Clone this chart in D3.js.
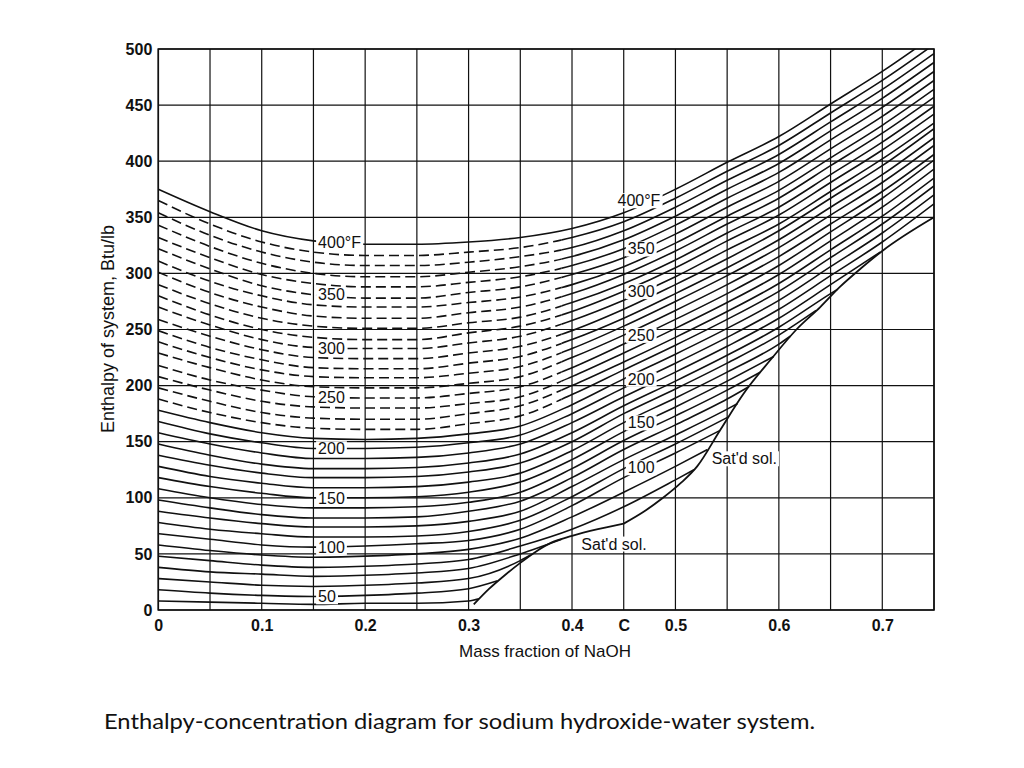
<!DOCTYPE html>
<html>
<head>
<meta charset="utf-8">
<script src="https://cdn.jsdelivr.net/npm/d3@7"></script>
<style>
body{margin:0;background:#fff;}
text{fill:#111;}
</style>
</head>
<body>
<script>
// concentration columns the isotherm values are read at
const xCols = [0, 0.05, 0.1, 0.15, 0.2, 0.25, 0.3, 0.35, 0.4, 0.45, 0.5, 0.55, 0.6, 0.65, 0.7, 0.75];

// isotherm temperatures, degF
const temps = [40, 50, 60, 70, 80, 90, 100, 110, 120, 130, 140, 150, 160, 170, 180, 190,
               200, 210, 220, 230, 240, 250, 260, 270, 280, 290, 300, 310, 320, 330, 340,
               350, 360, 370, 380, 390, 400];

// enthalpy (Btu/lb) of each isotherm at xCols
const hRows = [
  [8, 7, 6, 5, 6, 6, 8],
  [18, 15, 13, 12, 13, 15, 19],
  [28, 25, 22, 21, 22, 24, 28, 44],
  [38, 34, 32, 30, 31, 33, 37, 50],
  [48, 44, 40, 38, 39, 41, 45, 57, 72, 92, 116],
  [58, 53, 49, 47, 48, 50, 54, 64, 83, 105, 128],
  [68, 63, 58, 56, 57, 59, 62, 72, 93, 118, 140],
  [78, 72, 68, 65, 65, 66, 70, 80, 101, 126, 148],
  [88, 82, 77, 74, 74, 75, 79, 88, 110, 134, 156, 179],
  [98, 91, 85, 82, 82, 83, 88, 97, 118, 143, 165, 188],
  [108, 100, 94, 91, 91, 92, 96, 105, 126, 151, 173, 196],
  [118, 110, 104, 100, 100, 101, 105, 114, 134, 159, 181, 204],
  [128, 119, 113, 109, 109, 110, 114, 122, 142, 167, 189, 212, 237],
  [138, 129, 122, 118, 118, 119, 123, 131, 150, 175, 197, 220, 245],
  [148, 138, 130, 126, 126, 127, 131, 139, 158, 182, 204, 227, 252, 282],
  [158, 148, 140, 135, 135, 136, 140, 148, 167, 190, 212, 235, 260, 290],
  [168, 157, 149, 144, 144, 145, 149, 156, 175, 198, 220, 243, 268, 298, 328, 362],
  [178, 167, 158, 153, 152, 153, 157, 164, 183, 206, 228, 251, 276, 306, 336, 370],
  [188, 176, 167, 162, 161, 161, 166, 173, 192, 214, 236, 259, 284, 314, 344, 378],
  [198, 186, 176, 171, 170, 170, 175, 182, 200, 221, 243, 266, 291, 321, 351, 385],
  [208, 196, 186, 181, 180, 180, 184, 190, 208, 229, 251, 274, 299, 329, 359, 393],
  [218, 205, 196, 190, 189, 189, 193, 199, 216, 237, 259, 282, 307, 337, 367, 401],
  [229, 216, 205, 199, 198, 198, 202, 208, 225, 245, 267, 290, 315, 344, 373, 406],
  [239, 225, 214, 208, 207, 207, 211, 217, 233, 253, 275, 298, 323, 352, 381, 414],
  [249, 234, 223, 216, 215, 215, 220, 226, 241, 260, 282, 305, 330, 359, 388, 421],
  [259, 244, 232, 225, 224, 224, 229, 235, 249, 268, 290, 313, 338, 367, 396, 429],
  [270, 254, 241, 234, 233, 233, 238, 244, 258, 276, 297, 321, 344, 373, 402, 434],
  [280, 263, 250, 243, 241, 241, 247, 253, 266, 284, 305, 329, 352, 381, 410, 442],
  [290, 273, 260, 253, 251, 251, 256, 261, 274, 291, 312, 336, 359, 388, 417, 449],
  [301, 283, 270, 262, 260, 260, 265, 270, 282, 299, 320, 344, 367, 396, 425, 457],
  [311, 293, 280, 272, 270, 270, 274, 279, 290, 306, 327, 351, 374, 403, 432, 464],
  [322, 304, 289, 281, 278, 278, 283, 288, 299, 314, 335, 359, 382, 411, 440, 472],
  [332, 314, 299, 291, 288, 288, 292, 297, 307, 322, 343, 367, 390, 419, 448, 480],
  [343, 324, 309, 300, 297, 297, 301, 306, 315, 330, 351, 375, 398, 427, 456, 488],
  [354, 334, 319, 310, 307, 307, 310, 315, 323, 338, 359, 383, 406, 435, 464, 496],
  [365, 344, 328, 319, 316, 316, 319, 323, 332, 346, 367, 391, 414, 443, 472, 504],
  [375, 355, 338, 329, 326, 326, 328, 332, 340, 354, 375, 399, 422, 451, 480, 512]
];

// where the isotherms stop on the saturated-solution curve (only the first 16 do)
const endX = [0.31, 0.328, 0.36, 0.39, 0.518, 0.531, 0.543, 0.551, 0.56, 0.571, 0.582,
              0.595, 0.611, 0.636, 0.657, 0.698];
const endH = [10, 26, 49, 63, 125, 143, 160, 172, 184, 199, 212, 226, 244, 267, 286, 319];

// isotherms drawn dashed on the left part of the chart
const dashedTemps = [220, 230, 240, 250, 260, 270, 280, 290, 300, 310, 320, 330, 340, 350, 360, 370, 380, 390];
const dashEnd = 0.39;

// saturated solution curve, lower branch up to point C and upper branch after it
const satLowX = [0.305, 0.32, 0.335, 0.35, 0.365, 0.38, 0.40, 0.425, 0.45];
const satLowH = [5, 19, 31, 42, 52, 60, 66, 72, 77];
const satHighX = [0.45, 0.47, 0.488, 0.505, 0.521, 0.543, 0.566, 0.592, 0.617, 0.64, 0.659, 0.68, 0.70, 0.75];
const satHighH = [77, 88, 100, 113, 128, 160, 193, 223, 250, 270, 288, 305, 320, 350];

// isotherm labels
const leftLabels = ["400°F", "350", "300", "250", "200", "150", "100", "50"];
const leftLabelH = [328, 281, 233, 190, 144, 100, 56, 12];
const rightLabels = ["400°F", "350", "300", "250", "200", "150", "100"];
const rightLabelH = [365, 322, 284, 245, 206, 167, 127];

// axes
const xGrid = [0, 0.05, 0.1, 0.15, 0.2, 0.25, 0.3, 0.35, 0.4, 0.45, 0.5, 0.55, 0.6, 0.65, 0.7, 0.75];
const yTicks = [0, 50, 100, 150, 200, 250, 300, 350, 400, 450, 500];
const xTickVals = [0, 0.1, 0.2, 0.3, 0.4, 0.45, 0.5, 0.6, 0.7];
const xTickText = ["0", "0.1", "0.2", "0.3", "0.4", "C", "0.5", "0.6", "0.7"];

const SANS = "'Liberation Sans', Arial, Helvetica, sans-serif";

function main(){
    const W = 1024, H = 768;
    const svg = d3.select("body").append("svg")
        .attr("width", W)
        .attr("height", H)
        .style("font-family", SANS);
    svg.append("rect").attr("width", W).attr("height", H).attr("fill", "#fff");

    const x = d3.scaleLinear().domain([0, 0.75]).range([158.3, 934]);
    const y = d3.scaleLinear().domain([0, 500]).range([610, 49]);

    const defs = svg.append("defs");
    function clip(id, x0, x1){
        defs.append("clipPath").attr("id", id).append("rect")
            .attr("x", x(x0)).attr("y", y(500))
            .attr("width", x(x1) - x(x0)).attr("height", y(0) - y(500));
    }
    clip("plotClip", 0, 0.75);
    clip("dashClip", 0, dashEnd);
    clip("solidClip", dashEnd, 0.75);

    // grid
    const grid = svg.append("g").attr("stroke", "#111").attr("stroke-width", 1.2);
    grid.selectAll(".vg").data(xGrid).enter().append("line")
        .attr("x1", d => x(d)).attr("x2", d => x(d))
        .attr("y1", y(0)).attr("y2", y(500));
    grid.selectAll(".hg").data(yTicks).enter().append("line")
        .attr("x1", x(0)).attr("x2", x(0.75))
        .attr("y1", d => y(d)).attr("y2", d => y(d));

    const line = d3.line()
        .x(d => x(d[0]))
        .y(d => y(d[1]))
        .curve(d3.curveMonotoneX);

    const curves = svg.append("g")
        .attr("fill", "none")
        .attr("stroke", "#111")
        .attr("stroke-width", 1.6);

    temps.forEach((t, i) => {
        const pts = hRows[i].map((h, j) => [xCols[j], h]);
        if (i < endX.length) pts.push([endX[i], endH[i]]);
        if (dashedTemps.includes(t)) {
            curves.append("path").attr("d", line(pts))
                .attr("clip-path", "url(#dashClip)")
                .attr("stroke-dasharray", "10,5");
            curves.append("path").attr("d", line(pts))
                .attr("clip-path", "url(#solidClip)");
        } else {
            curves.append("path").attr("d", line(pts))
                .attr("clip-path", "url(#plotClip)");
        }
    });

    // saturated solution curve
    const satLow = satLowX.map((v, i) => [v, satLowH[i]]);
    const satHigh = satHighX.map((v, i) => [v, satHighH[i]]);
    curves.append("path").attr("d", line(satLow)).attr("stroke-width", 1.8);
    curves.append("path").attr("d", line(satHigh)).attr("stroke-width", 1.8);

    // frame
    svg.append("rect")
        .attr("x", x(0)).attr("y", y(500))
        .attr("width", x(0.75) - x(0)).attr("height", y(0) - y(500))
        .attr("fill", "none").attr("stroke", "#111").attr("stroke-width", 1.6);

    // labels with white backing
    const labels = svg.append("g").attr("font-size", "16px");
    function label(txt, xv, hv){
        const t = labels.append("text")
            .attr("x", x(xv)).attr("y", y(hv))
            .attr("dy", "0.36em")
            .text(txt);
        const b = t.node().getBBox();
        labels.insert("rect", "text")
            .attr("x", b.x - 2).attr("y", b.y + 1)
            .attr("width", b.width + 4).attr("height", b.height - 2)
            .attr("fill", "#fff");
    }
    leftLabels.forEach((s, i) => label(s, 0.1545, leftLabelH[i]));
    rightLabels.forEach((s, i) => label(s, i === 0 ? 0.444 : 0.454, rightLabelH[i]));
    label("Sat'd sol.", 0.409, 59);
    label("Sat'd sol.", 0.535, 135);

    // axes
    const yAxis = svg.append("g")
        .attr("transform", "translate(" + x(0) + ",0)")
        .call(d3.axisLeft(y).tickValues(yTicks).tickSize(0).tickPadding(6));
    yAxis.select(".domain").remove();
    yAxis.selectAll("text").style("font-size", "16px").style("font-weight", "bold")
        .style("font-family", SANS).attr("fill", "#111");

    const xAxis = svg.append("g")
        .attr("transform", "translate(0," + y(0) + ")")
        .call(d3.axisBottom(x).tickValues(xTickVals)
            .tickFormat((d, i) => xTickText[i]).tickSize(0).tickPadding(10));
    xAxis.select(".domain").remove();
    xAxis.selectAll("text").style("font-size", "16px").style("font-weight", "bold")
        .style("font-family", SANS).attr("fill", "#111");

    svg.append("text")
        .attr("x", 545).attr("y", 657)
        .attr("text-anchor", "middle")
        .style("font-size", "17px")
        .text("Mass fraction of NaOH");

    svg.append("text")
        .attr("transform", "translate(108,329) rotate(-90)")
        .attr("text-anchor", "middle")
        .attr("dy", "0.35em")
        .style("font-size", "18px")
        .text("Enthalpy of system, Btu/lb");

    // caption
    svg.append("text")
        .attr("x", 104).attr("y", 729)
        .attr("textLength", 711)
        .attr("lengthAdjust", "spacingAndGlyphs")
        .style("font-family", "Lato, 'Open Sans', sans-serif")
        .style("font-size", "22px")
        .text("Enthalpy-concentration diagram for sodium hydroxide-water system.");
}
main();
</script>
</body>
</html>
